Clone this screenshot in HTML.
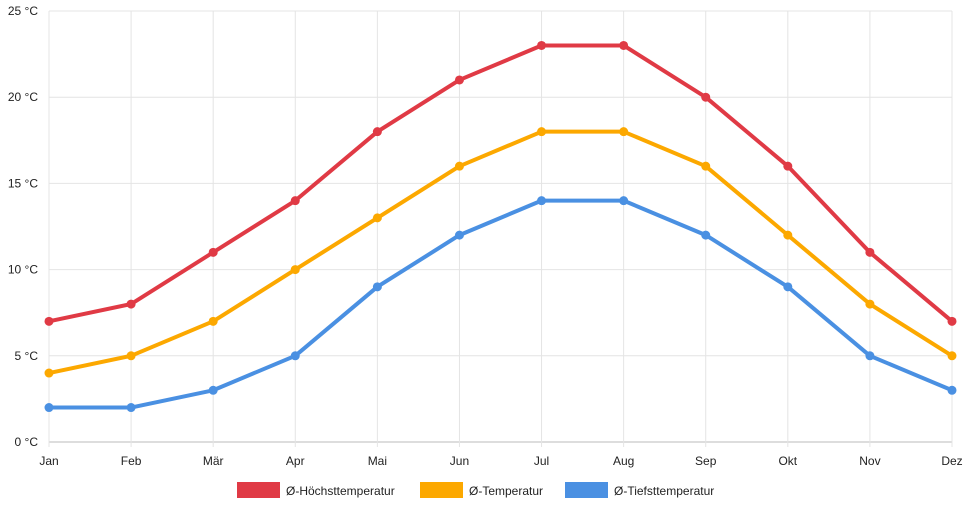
<!DOCTYPE html>
<html><head><meta charset="utf-8"><style>
body{margin:0;background:#fff;font-family:"Liberation Sans",sans-serif;}
svg text{font-family:"Liberation Sans",sans-serif;font-size:12px;fill:#222;}
</style></head><body>
<svg id="chart" width="968" height="508" xmlns="http://www.w3.org/2000/svg"></svg>
<script>
const months=["Jan","Feb","Mär","Apr","Mai","Jun","Jul","Aug","Sep","Okt","Nov","Dez"];
const highTemps=[7,8,11,14,18,21,23,23,20,16,11,7];
const avgTemps=[4,5,7,10,13,16,18,18,16,12,8,5];
const lowTemps=[2,2,3,5,9,12,14,14,12,9,5,3];
const yTicks=[0,5,10,15,20,25];
const seriesNames=["Ø-Höchsttemperatur","Ø-Temperatur","Ø-Tiefsttemperatur"];
const svg=document.getElementById('chart');
const NS="http://www.w3.org/2000/svg";
const x0=49,x1=952,yb=442,yt=11;
function xs(i){return x0+i*(x1-x0)/(months.length-1);}
function ys(v){return yb-v*(yb-yt)/25;}
function mk(t,a){const e=document.createElementNS(NS,t);for(const k in a)e.setAttribute(k,a[k]);svg.appendChild(e);return e;}
yTicks.forEach(v=>{
 const l=mk('line',{x1:x0,x2:x1,y1:ys(v),y2:ys(v),stroke:v===0?'#bbb':'#e4e4e4','stroke-width':1});
 
 
 const t=mk('text',{x:38,y:ys(v)+4,'text-anchor':'end'});t.textContent=v+' °C';
 
 
});
months.forEach((m,i)=>{
 const l=mk('line',{x1:xs(i),x2:xs(i),y1:yt,y2:yb+5,stroke:'#e4e4e4','stroke-width':1});
 
 
 const t=mk('text',{x:xs(i),y:465,'text-anchor':'middle'});t.textContent=m;
 
 
});
const series=[[highTemps,'#e03a45'],[avgTemps,'#fca800'],[lowTemps,'#4a90e2']];
series.forEach(([d,c],si)=>{
 const p=mk('polyline',{points:d.map((v,i)=>xs(i)+','+ys(v)).join(' '),fill:'none',stroke:c,'stroke-width':4,'stroke-linejoin':'round'});
 
 
 d.forEach((v,i)=>{
  const cc=mk('circle',{cx:xs(i),cy:ys(v),r:4.5,fill:c});
  
  
 });
});
const lx=[237,420,565];
seriesNames.forEach((n,i)=>{
 const r=mk('rect',{x:lx[i],y:482,width:43,height:16,fill:series[i][1]});
 
 
 const t=mk('text',{x:lx[i]+49,y:495});t.textContent=n;
 
 
});
</script>
</body></html>
